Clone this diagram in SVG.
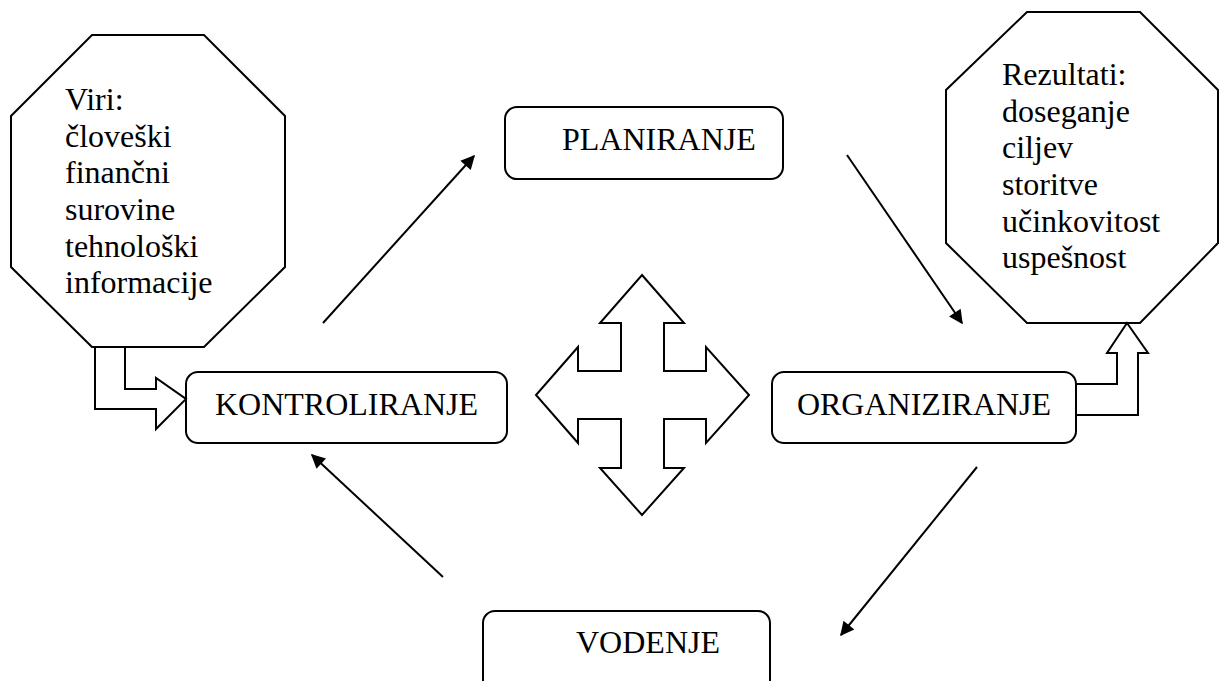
<svg xmlns="http://www.w3.org/2000/svg" width="1220" height="681" viewBox="0 0 1220 681" font-family="'Liberation Serif', Tinos, 'DejaVu Serif', serif">
  <style>
    .shape { fill: #fff; stroke: #000; stroke-width: 2; stroke-linejoin: miter; }
    .box { fill: #fff; stroke: #000; stroke-width: 2; }
    .lbl { font-family: 'Liberation Serif', Tinos, 'DejaVu Serif', serif; font-size: 32px; fill: #000; }
    .mid { text-anchor: middle; }
    .conn { fill: none; stroke: #000; stroke-width: 2; marker-end: url(#head); }
  </style>
  <defs>
    <marker id="head" viewBox="0 0 10 10" refX="9" refY="5" markerWidth="8" markerHeight="7" markerUnits="strokeWidth" orient="auto">
      <path d="M0,0 L10,5 L0,10 z" fill="#000"/>
    </marker>
  </defs>
  <rect width="1220" height="681" fill="#fff"/>

  <!-- resources octagon -->
  <g id="viri">
    <polygon class="shape" points="92,35 204,35 285,116 285,267 204,347 92,347 11,267 11,116"/>
    <text class="lbl" x="65" y="110">Viri:</text>
    <text class="lbl" x="65" y="147">človeški</text>
    <text class="lbl" x="65" y="183">finančni</text>
    <text class="lbl" x="65" y="220">surovine</text>
    <text class="lbl" x="65" y="257">tehnološki</text>
    <text class="lbl" x="65" y="293">informacije</text>
  </g>

  <!-- results octagon -->
  <g id="rezultati">
    <polygon class="shape" points="1027,12 1140,12 1218,90 1218,243 1140,323 1027,323 946,243 946,90"/>
    <text class="lbl" x="1002" y="85">Rezultati:</text>
    <text class="lbl" x="1002" y="122">doseganje</text>
    <text class="lbl" x="1002" y="158">ciljev</text>
    <text class="lbl" x="1002" y="195">storitve</text>
    <text class="lbl" x="1002" y="232">učinkovitost</text>
    <text class="lbl" x="1002" y="268">uspešnost</text>
  </g>

  <g id="planiranje">
    <rect class="box" x="505" y="107" width="278" height="72" rx="12"/>
    <text class="lbl" x="562" y="150">PLANIRANJE</text>
  </g>

  <g id="kontroliranje">
    <rect class="box" x="186" y="372" width="321" height="71" rx="12"/>
    <text class="lbl mid" x="346.5" y="415">KONTROLIRANJE</text>
  </g>

  <g id="organiziranje">
    <rect class="box" x="772" y="372" width="304" height="71" rx="12"/>
    <text class="lbl mid" x="924" y="415">ORGANIZIRANJE</text>
  </g>

  <g id="vodenje">
    <rect class="box" x="483" y="611" width="287" height="90" rx="12"/>
    <text class="lbl" x="576" y="653">VODENJE</text>
  </g>

  <!-- four-way block arrow in the centre -->
  <g id="smeri">
    <polygon class="shape" points="642,275 684,323 664,323 664,371 706,371 706,347 749,395 706,443 706,419 664,419 664,468 684,468 642,515 600,468 621,468 621,419 578,419 578,443 536,395 578,347 578,371 621,371 621,323 600,323"/>
  </g>

  <g id="connectors">
    <line class="conn" x1="323" y1="323" x2="474" y2="156"/>
    <line class="conn" x1="847" y1="155" x2="962" y2="323"/>
    <line class="conn" x1="977" y1="467" x2="841" y2="635"/>
    <line class="conn" x1="443" y1="577" x2="312" y2="455"/>
    <!-- bent block arrow: resources into control -->
    <polygon class="shape" points="95,347 95,409 156,409 156,429 186,399 156,378 156,389 125,389 125,347"/>
    <!-- bent block arrow: organising into results -->
    <polygon class="shape" points="1076,384 1117,384 1117,353 1107,353 1127,323 1148,353 1138,353 1138,415 1076,415"/>
  </g>
</svg>
